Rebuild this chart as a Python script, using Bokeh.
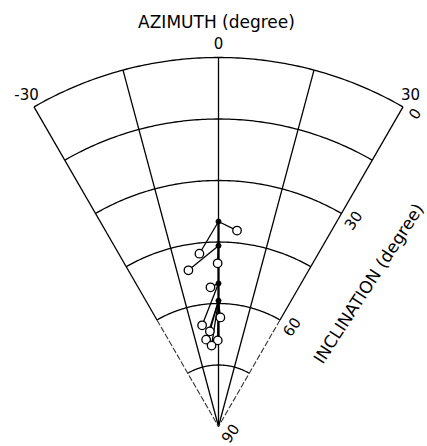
import numpy as np
from bokeh.plotting import figure
from bokeh.embed import file_html
from bokeh.resources import INLINE
from bokeh.core.properties import value

# ---- data (azimuth in degrees, inclination in degrees) ----
node_inc = [40.0, 45.9, 55.1, 59.3]          # branching points on the main track (azimuth 0)
circ_az = [5.4, -6.3, -10.9, -0.3, -3.3, -9.2, 1.0, -5.2, -8.1, -0.5, -4.9]
circ_inc = [42.0, 47.6, 51.2, 50.2, 56.0, 65.0, 63.4, 66.7, 68.6, 69.0, 70.2]
circ_parent = [0, 0, 1, 1, 2, 2, 3, 3, 3, 3, 3]
trunk_inc = [40.0, 69.0]

az_ticks = [-30, -15, 0, 15, 30]
az_label_vals = [-30, 0, 30]
az_labels = ["-30", "0", "30"]
inc_rings = [0, 15, 30, 45, 60, 75]
inc_label_vals = [0, 30, 60, 90]
inc_labels = ["0", "30", "60", "90"]

R = 369.0  # radius of inclination 0 ring (px)


def polar(az, inc):
    az = np.radians(np.asarray(az, dtype=float))
    r = R * (90.0 - np.asarray(inc, dtype=float)) / 90.0
    return r * np.sin(az), r * np.cos(az)


p = figure(width=427, height=446, x_range=(-218, 209), y_range=(-20, 426),
           output_backend="svg", toolbar_location=None, min_border=0)
p.axis.visible = False
p.grid.visible = False
p.outline_line_color = None
p.background_fill_color = "white"

LW = 1.3
# rings
azs = np.linspace(-30, 30, 121)
xs, ys = [], []
for inc in inc_rings:
    x, y = polar(azs, np.full_like(azs, inc))
    xs.append(list(x)); ys.append(list(y))
p.multi_line(xs, ys, line_color="black", line_width=LW)

# spokes
xs, ys = [], []
for a in az_ticks:
    bot = 90 if a in (-15, 0, 15) else 60
    x, y = polar([a, a], [0, bot])
    xs.append(list(x)); ys.append(list(y))
p.multi_line(xs, ys, line_color="black", line_width=LW)
xs, ys = [], []
for a in (-30, 30):
    x, y = polar([a, a], [60, 90])
    xs.append(list(x)); ys.append(list(y))
p.multi_line(xs, ys, line_color="#333333", line_width=1.1, line_dash="6 2")

# main track
tx, ty = polar([0, 0], trunk_inc)
p.line(tx, ty, line_color="black", line_width=2.2)

# branches
bx, by = [], []
for az, inc, par in zip(circ_az, circ_inc, circ_parent):
    x0, y0 = polar(0, node_inc[par])
    x1, y1 = polar(az, inc)
    bx.append([float(x0), float(x1)]); by.append([float(y0), float(y1)])
p.multi_line(bx, by, line_color="black", line_width=1.3)

nx, ny = polar(np.zeros(len(node_inc)), node_inc)
p.scatter(nx, ny, size=5, marker="circle", fill_color="black", line_color="black")

cx, cy = polar(circ_az, circ_inc)
p.scatter(cx, cy, size=8.5, marker="circle", fill_color="white", line_color="black", line_width=1.3)

FONT = value("DejaVu Sans")

# azimuth labels
lx, ly = polar(az_label_vals, [0, 0, 0])
da = np.radians(az_label_vals)
lx = lx + 15 * np.sin(da)
ly = ly + 15 * np.cos(da)
p.text(lx, ly, text=az_labels, text_font=FONT, text_font_size="15px",
       text_align="center", text_baseline="middle", text_color="black")

# inclination labels along right edge
ix, iy = polar([30] * len(inc_label_vals), inc_label_vals)
nrm = np.array([np.cos(np.radians(30)), -np.sin(np.radians(30))])
ix = ix + 13 * nrm[0]
iy = iy + 13 * nrm[1]
p.text(ix, iy, text=inc_labels, angle=np.radians(55), text_font=FONT, text_font_size="15px",
       text_align="center", text_baseline="middle", text_color="black")

# axis titles
p.text([-2], [405], text=["AZIMUTH (degree)"], text_font=FONT, text_font_size="17px",
       text_align="center", text_baseline="middle", text_color="black")
p.text([150], [143], text=["INCLINATION (degree)"], angle=np.radians(57), text_font=FONT,
       text_font_size="17px", text_align="center", text_baseline="middle", text_color="black")

open("out.html", "w").write(file_html(p, INLINE))
